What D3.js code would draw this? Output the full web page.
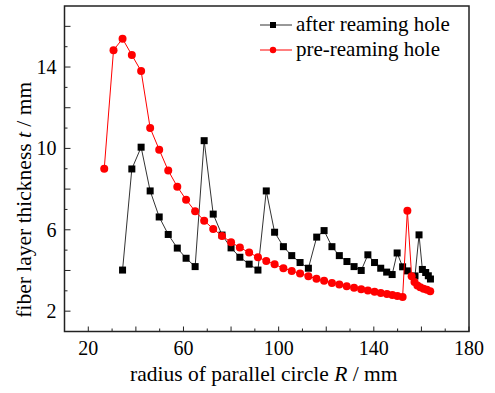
<!DOCTYPE html>
<html><head><meta charset="utf-8">
<script src="https://cdn.jsdelivr.net/npm/d3@7"></script>
<style>body{margin:0;background:#fff}svg{display:block}text{font-family:"Liberation Serif","Times New Roman",serif;fill:#000}</style>
</head><body>
<svg id="c" width="495" height="393"></svg>
<script>
const seriesNames = ["after reaming hole", "pre-reaming hole"];
const afterR = [34.4,38.3,42.2,46.0,49.8,53.6,57.4,61.1,64.9,68.7,72.5,76.2,80.0,83.7,87.6,91.3,94.8,98.3,102.0,105.5,109.0,112.5,116.0,119.1,122.4,125.5,128.7,131.7,134.7,137.5,140.3,142.9,145.4,147.7,149.8,152.1,154.1,157.3,159.0,160.4,161.8,162.9,163.8];
const afterT = [4.02,8.99,10.06,7.91,6.63,5.77,5.10,4.60,4.19,10.38,6.77,5.74,5.11,4.65,4.31,4.02,7.91,5.88,5.17,4.73,4.39,4.11,5.64,5.96,5.17,4.73,4.44,4.19,4.00,4.77,4.39,4.11,3.92,3.80,4.86,4.18,3.98,3.73,5.75,4.05,3.90,3.74,3.58];
const preR = [26.7,30.6,34.4,38.3,42.2,46.0,49.8,53.6,57.4,61.1,64.9,68.7,72.5,76.2,80.0,83.7,87.6,91.3,94.8,98.3,102.0,105.5,109.0,112.5,115.9,119.1,122.4,125.5,128.6,131.7,134.7,137.5,140.3,142.9,145.5,147.8,149.9,152.1,154.1,155.9,157.1,158.3,159.5,160.9,162.3,163.7];
const preT = [9.0,14.83,15.39,14.59,13.8,11.0,9.94,8.91,8.12,7.48,6.91,6.45,6.04,5.70,5.39,5.13,4.88,4.65,4.47,4.30,4.11,3.98,3.85,3.72,3.59,3.49,3.39,3.31,3.23,3.15,3.08,3.01,2.95,2.89,2.84,2.79,2.75,2.70,6.94,3.72,3.43,3.26,3.18,3.10,3.05,2.98];
const xTickLabels = [20,60,100,140,180];
const yTickLabels = [2,6,10,14];

const svg = d3.select("#c");
const L=64.5, T=6, R=469, B=331.5;
const x = d3.scaleLinear().domain([10,180]).range([L,R]);
const y = d3.scaleLinear().domain([1,17]).range([B,T]);
const FS = 20, TFS = 21.5;

// ticks (inward)
const g = svg.append("g");
d3.range(20,181,10).forEach(v=>{
  const len = (v%20===0)?5:3;
  g.append("line").attr("x1",x(v)).attr("x2",x(v)).attr("y1",B).attr("y2",B-len).attr("stroke","#222").attr("stroke-width",1);
});
d3.range(2,17,1).forEach(v=>{
  const len = (v%2===0)?6:3;
  g.append("line").attr("x1",L).attr("x2",L+len).attr("y1",y(v)).attr("y2",y(v)).attr("stroke","#222").attr("stroke-width",1);
});
xTickLabels.forEach(v=>{
  svg.append("text").attr("x",x(v)).attr("y",B+23).attr("text-anchor","middle").attr("font-size",FS).text(v);
});
yTickLabels.forEach(v=>{
  svg.append("text").attr("x",L-8).attr("y",y(v)+7).attr("text-anchor","end").attr("font-size",FS).text(v);
});

// axis titles
const xt = svg.append("text").attr("x",(L+R)/2-3).attr("y",381).attr("text-anchor","middle").attr("font-size",TFS);
xt.append("tspan").text("radius of parallel circle ");
xt.append("tspan").attr("font-style","italic").text("R");
xt.append("tspan").text(" / mm");
const yt = svg.append("text").attr("transform",`translate(31,${(T+B)/2+31}) rotate(-90)`).attr("text-anchor","middle").attr("font-size",TFS);
yt.append("tspan").text("fiber layer thickness ");
yt.append("tspan").attr("font-style","italic").text("t");
yt.append("tspan").text(" / mm");

// data
const line = d3.line().x(d=>x(d[0])).y(d=>y(d[1]));
const after = afterR.map((r,i)=>[r,afterT[i]]);
const pre = preR.map((r,i)=>[r,preT[i]]);
svg.append("path").datum(after).attr("d",line).attr("fill","none").attr("stroke","#333").attr("stroke-width",1);
svg.selectAll("rect.a").data(after).enter().append("rect").attr("class","a")
  .attr("x",d=>x(d[0])-3.5).attr("y",d=>y(d[1])-3.5).attr("width",7).attr("height",7).attr("fill","#000");
svg.append("path").datum(pre).attr("d",line).attr("fill","none").attr("stroke","#f00").attr("stroke-width",1);
svg.selectAll("circle.p").data(pre).enter().append("circle").attr("class","p")
  .attr("cx",d=>x(d[0])).attr("cy",d=>y(d[1])).attr("r",4).attr("fill","#f00");

// legend
const lg = svg.append("g");
[[25,"#333","sq"],[50,"#f00","ci"]].forEach((s,i)=>{
  lg.append("line").attr("x1",260).attr("x2",292).attr("y1",s[0]).attr("y2",s[0]).attr("stroke",s[1]).attr("stroke-width",1);
  if(s[2]==="sq") lg.append("rect").attr("x",273-3).attr("y",s[0]-3).attr("width",6).attr("height",6).attr("fill","#000");
  else lg.append("circle").attr("cx",273).attr("cy",s[0]).attr("r",3.2).attr("fill","#f00");
  lg.append("text").attr("x",296).attr("y",s[0]+6).attr("font-size",21).text(seriesNames[i]);
});

// frame
svg.append("rect").attr("x",L).attr("y",T).attr("width",R-L).attr("height",B-T).attr("fill","none").attr("stroke","#222").attr("stroke-width",1.5);
</script>
</body></html>
